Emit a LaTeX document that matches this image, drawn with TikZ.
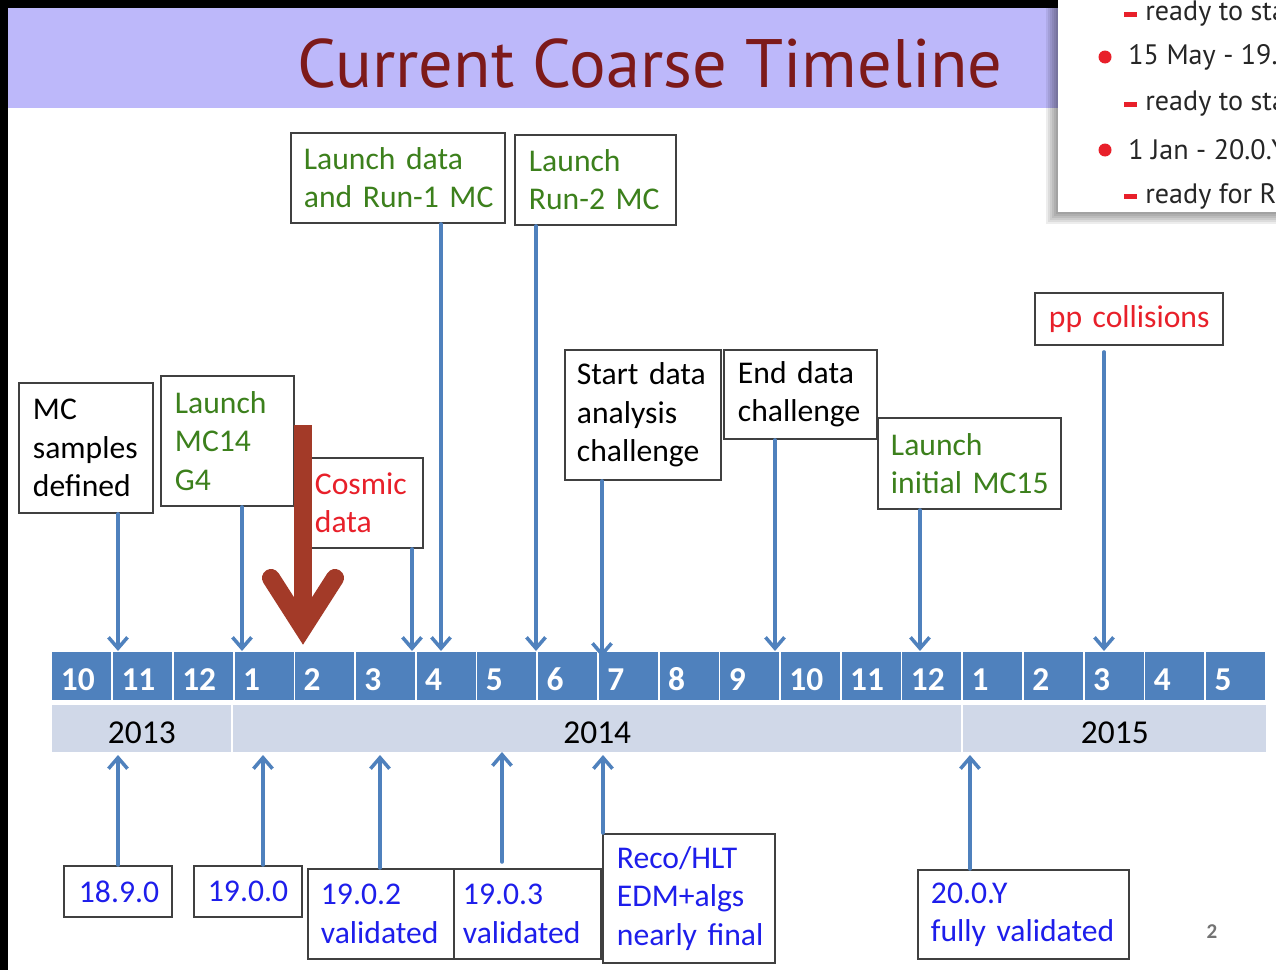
\documentclass[tikz,border=0pt]{standalone}
\usepackage{fontspec}
\setmainfont{Carlito}
\newfontfamily\titlefont{PT Sans}
\usetikzlibrary{arrows.meta, calc}
\definecolor{tlblue}{RGB}{79,129,189}
\definecolor{tlyear}{RGB}{208,216,232}
\definecolor{tlgreen}{RGB}{60,128,28}
\definecolor{tlred}{RGB}{232,32,42}
\definecolor{tlvers}{RGB}{30,30,235}
\definecolor{tltitle}{RGB}{125,26,26}
\definecolor{tlbar}{RGB}{189,184,250}
\definecolor{tlbig}{RGB}{163,58,40}
\tikzstyle{month} = [rectangle, fill=tlblue, text=white, font=\fontsize{19}{20}\selectfont\bfseries, minimum width=1.18cm, minimum height=0.96cm, inner xsep=0.17cm, text width=0.84cm, text height=0.58cm, align=left, anchor=north west]
\tikzstyle{year} = [rectangle, fill=tlyear, text=black, font=\fontsize{19}{21}\selectfont, minimum height=0.94cm, text height=0.58cm, anchor=north west]
\tikzstyle{event} = [rectangle, draw=black!75, line width=1.1pt, fill=white, font=\fontsize{18}{21.8}\selectfont, align=left, anchor=north west, inner ysep=0pt, execute at begin node={\hyphenpenalty=10000 \exhyphenpenalty=10000 \hbadness=10000 \hfuzz=2cm}]
\tikzstyle{arrow} = [line width=2pt, draw=tlblue, line cap=round, -{Straight Barb[length=0.22cm, width=0.38cm]}]
\tikzstyle{bigarrow} = [line width=0.36cm, draw=tlbig]
\tikzstyle{popline} = [anchor=west, inner sep=0pt, text=black!85, font=\titlefont\fontsize{16}{20}\selectfont]

\begin{document}
\begin{tikzpicture}[x=0.02cm, y=-0.02cm]
    \useasboundingbox (0,0) rectangle (1276,970);
    \fill[white] (0,0) rectangle (1276,970);

    % title bar
    \fill[tlbar] (8,8) rectangle (1276,108);
    \fill[black] (0,0) rectangle (1276,8);
    \fill[black] (0,0) rectangle (8,970);
    \node (title) [text=tltitle, font=\titlefont\fontsize{39}{42}\selectfont] at (650,64) {Current Coarse Timeline};

    % months and years
    \foreach \lab [count=\i from 0] in {10,11,12,1,2,3,4,5,6,7,8,9,10,11,12,1,2,3,4,5}
        \node (m\i) [month] at ({52+60.72*\i},652) {\lab};
    \node (y2013) [year, minimum width=3.58cm] at (52,705) {2013};
    \node (y2014) [year, minimum width=14.56cm] at (233,705) {2014};
    \node (y2015) [year, minimum width=6.06cm] at (963,705) {2015};

    % events above
    \node (mcs)    [event, minimum width=2.68cm, minimum height=2.6cm, inner xsep=0.28cm, text width=2.12cm] at (18,382) {MC\\samples\\defined};
    \node (mc14)   [event, text=tlgreen, minimum width=2.66cm, minimum height=2.6cm, inner xsep=0.28cm, text width=2.1cm] at (160,375) {Launch\\MC14\\G4};
    \node (cosmic) [event, text=tlred, minimum width=2.24cm, minimum height=1.8cm, inner xsep=0.08cm, text width=2.08cm] at (310,457) {Cosmic\\data};
    \node (run1)   [event, text=tlgreen, minimum width=4.28cm, minimum height=1.8cm, inner xsep=0.26cm, text width=3.76cm] at (290,132) {Launch~data\\and~Run-1~MC};
    \node (run2)   [event, text=tlgreen, minimum width=3.22cm, minimum height=1.8cm, inner xsep=0.28cm, text width=2.66cm] at (514,134) {Launch\\Run-2~MC};
    \node (start)  [event, minimum width=3.12cm, minimum height=2.6cm, inner xsep=0.24cm, text width=2.64cm] at (564,349) {Start~data\\analysis\\challenge};
    \node (end)    [event, minimum width=3.06cm, minimum height=1.78cm, inner xsep=0.28cm, text width=2.5cm] at (723,349) {End~data\\challenge};
    \node (mc15)   [event, text=tlgreen, minimum width=3.66cm, minimum height=1.82cm, inner xsep=0.26cm, text width=3.14cm] at (877,417) {Launch\\initial~MC15};
    \node (pp)     [event, text=tlred, minimum width=3.76cm, minimum height=1.04cm, inner xsep=0.28cm, text width=3.2cm] at (1034,292) {pp~collisions};

    % releases below
    \node (r1890) [event, text=tlvers, minimum width=2.16cm, minimum height=1.02cm, inner xsep=0.3cm, text width=1.56cm] at (63,865) {18.9.0};
    \node (r1900) [event, text=tlvers, minimum width=2.16cm, minimum height=1.02cm, inner xsep=0.28cm, text width=1.6cm] at (193,865) {19.0.0};
    \node (r1902) [event, text=tlvers, minimum width=2.92cm, minimum height=1.8cm, inner xsep=0.26cm, text width=2.4cm] at (307,868) {19.0.2\\validated};
    \node (r1903) [event, text=tlvers, minimum width=2.94cm, minimum height=1.8cm, inner xsep=0.18cm, text width=2.58cm] at (453,868) {19.0.3\\validated};
    \node (reco)  [event, text=tlvers, minimum width=3.44cm, minimum height=2.58cm, inner xsep=0.28cm, text width=2.88cm] at (602,833) {Reco/HLT\\EDM+algs\\nearly~final};
    \node (r20)   [event, text=tlvers, minimum width=4.22cm, minimum height=1.78cm, inner xsep=0.26cm, text width=3.7cm] at (917,869) {20.0.Y\\fully~validated};

    \node (page) [text=black!55, font=\fontsize{12}{14}\selectfont\bfseries] at (1212,932) {2};

    % arrow tips
    \coordinate (tmcs) at (118,651);
    \coordinate (tmc14) at (242,651);
    \coordinate (tcosmic) at (412,651);
    \coordinate (trun1) at (441,651);
    \coordinate (trun2) at (536,651);
    \coordinate (tstart) at (602,657);
    \coordinate (tend) at (775,651);
    \coordinate (tmc15) at (920,651);
    \coordinate (tpp) at (1104,651);
    \coordinate (b1890) at (118,755);
    \coordinate (b1900) at (263,755);
    \coordinate (b1902) at (380,755);
    \coordinate (b1903) at (502,752);
    \coordinate (breco) at (603,755);
    \coordinate (br20) at (970,755);

\draw [arrow] (mcs.south -| tmcs) -- (tmcs);
\draw [arrow] (mc14.south -| tmc14) -- (tmc14);
\draw [arrow] (cosmic.south -| tcosmic) -- (tcosmic);
\draw [arrow] (run1.south -| trun1) -- (trun1);
\draw [arrow] (run2.south -| trun2) -- (trun2);
\draw [arrow] (start.south -| tstart) -- (tstart);
\draw [arrow] (end.south -| tend) -- (tend);
\draw [arrow] (mc15.south -| tmc15) -- (tmc15);
\draw [arrow] ($(pp.south -| tpp)+(0,6)$) -- (tpp);

\draw [arrow] (r1890.north -| b1890) -- (b1890);
\draw [arrow] (r1900.north -| b1900) -- (b1900);
\draw [arrow] (r1902.north -| b1902) -- (b1902);
\draw [arrow] ($(r1903.north -| b1903)+(0,-6)$) -- (b1903);
\draw [arrow] (reco.north -| breco) -- (breco);
\draw [arrow] (r20.north -| br20) -- (br20);

    % big red arrow
    \draw [bigarrow] (303,425) -- (303,622);
    \draw [bigarrow, line cap=round, line join=miter] (271,578) -- (303,628) -- (335,578);

    % popup with soft shadow
    \foreach \s in {12,10,8,6,4,2}
        \fill[black, opacity=0.07] (1058-\s,-5) rectangle (1280,212+\s);
    \fill[white] (1058,-5) rectangle (1280,212);
    \begin{scope}
    \clip (1058,0) rectangle (1276,212);
    \fill[tlred] (1124,12) rectangle (1137,17);
    \node (pop1) [popline] at (1145,14) {ready to start};
    \fill[tlred] (1105,57) circle (6.5);
    \node (pop2) [popline] at (1128,57) {15 May - 19.0.3};
    \fill[tlred] (1124,102) rectangle (1137,107);
    \node (pop3) [popline] at (1145,104) {ready to start};
    \fill[tlred] (1105,150) circle (6.5);
    \node (pop4) [popline] at (1128,150) {1 Jan - 20.0.Y};
    \fill[tlred] (1124,194) rectangle (1137,199);
    \node (pop5) [popline] at (1145,196) {ready for Run-2};
    \end{scope}
\end{tikzpicture}
\end{document}
